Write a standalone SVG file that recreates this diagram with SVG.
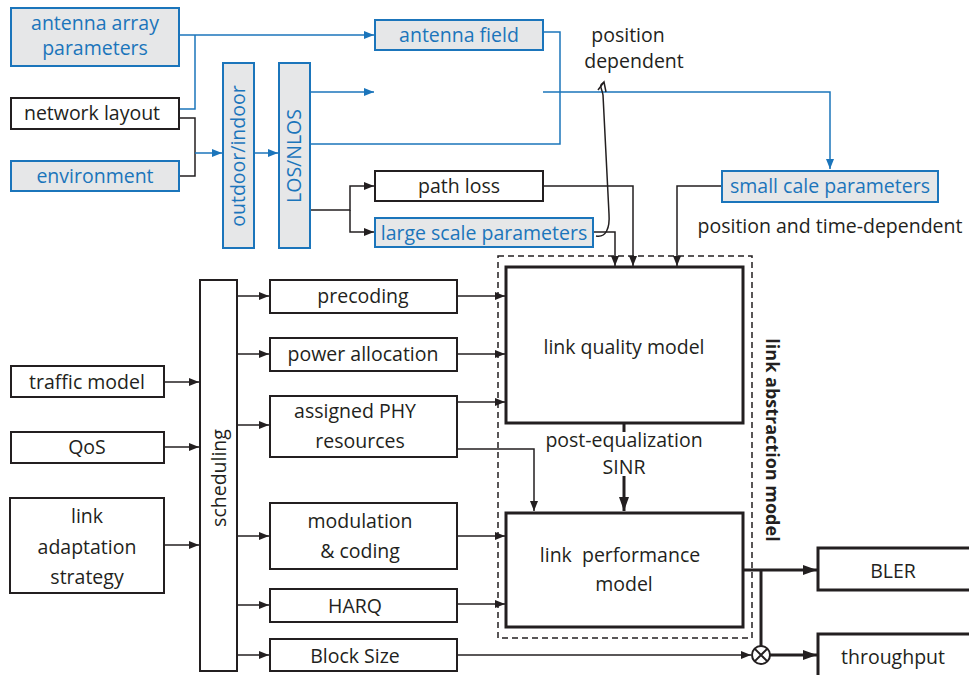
<svg xmlns="http://www.w3.org/2000/svg" width="969" height="675" viewBox="0 0 969 675">
<defs>
<marker id="ab" viewBox="0 0 10 8" refX="10" refY="4" markerWidth="10" markerHeight="8" markerUnits="userSpaceOnUse" orient="auto"><path d="M0 0L10 4L0 8z" fill="#231f20"/></marker>
<marker id="abl" viewBox="0 0 10 8" refX="10" refY="4" markerWidth="10" markerHeight="8" markerUnits="userSpaceOnUse" orient="auto"><path d="M0 0L10 4L0 8z" fill="#1b75bb"/></marker>
<marker id="abig" viewBox="0 0 14 10" refX="14" refY="5" markerWidth="14" markerHeight="10" markerUnits="userSpaceOnUse" orient="auto"><path d="M0 0L14 5L0 10z" fill="#231f20"/></marker>
</defs>
<style>
text{font-family:"Open Sans","Noto Sans","Liberation Sans",sans-serif;font-size:19.5px;fill:#231f20;text-anchor:middle}
.bt{fill:#1b75bb}
.bb{fill:#e6e7e8;stroke:#1b75bb;stroke-width:2}
.kb{fill:#fff;stroke:#231f20;stroke-width:2}
.tk{fill:#fff;stroke:#231f20;stroke-width:3}
.bl{fill:none;stroke:#1b75bb;stroke-width:1.5}
.kl{fill:none;stroke:#231f20;stroke-width:1.5}
.th{fill:none;stroke:#231f20;stroke-width:3}
</style>
<rect width="969" height="675" fill="#fff"/>

<g id="connectors">
<path class="bl" d="M179 35H374" marker-end="url(#abl)"/>
<path class="bl" d="M179 109H195V35"/>
<path class="kl" d="M179 118H195V176H179"/>
<path class="bl" d="M195 153H222" marker-end="url(#abl)"/>
<path class="bl" d="M254 153H278" marker-end="url(#abl)"/>
<path class="bl" d="M310 92H374" marker-end="url(#abl)"/>
<path class="bl" d="M543 92H830V169" marker-end="url(#abl)"/>
<path class="bl" d="M310 144H560V32H543"/>
<path class="kl" d="M310 210H350V186H374" marker-end="url(#ab)"/>
<path class="kl" d="M350 210V232H374" marker-end="url(#ab)"/>
<path class="kl" d="M543 186H633V266" marker-end="url(#ab)"/>
<path class="kl" d="M593 232H615V266" marker-end="url(#ab)"/>
<path class="kl" d="M722 186H677V266" marker-end="url(#ab)"/>
<path class="kl" d="M596 236C606 238 610 228 609 214L603 95C602 88 598 86 604 82"/>
<path class="kl" d="M598 90L604 82L606 92"/>
<path class="kl" d="M164 382H199" marker-end="url(#ab)"/>
<path class="kl" d="M164 447H199" marker-end="url(#ab)"/>
<path class="kl" d="M164 545H199" marker-end="url(#ab)"/>
<path class="kl" d="M237 296H269" marker-end="url(#ab)"/>
<path class="kl" d="M237 354H269" marker-end="url(#ab)"/>
<path class="kl" d="M237 425H269" marker-end="url(#ab)"/>
<path class="kl" d="M237 536H269" marker-end="url(#ab)"/>
<path class="kl" d="M237 605H269" marker-end="url(#ab)"/>
<path class="kl" d="M237 655H269" marker-end="url(#ab)"/>
<path class="kl" d="M457 296H505" marker-end="url(#ab)"/>
<path class="kl" d="M457 354H505" marker-end="url(#ab)"/>
<path class="kl" d="M457 402H505" marker-end="url(#ab)"/>
<path class="kl" d="M457 449H534V511" marker-end="url(#ab)"/>
<path class="kl" d="M457 536H505" marker-end="url(#ab)"/>
<path class="kl" d="M457 604H505" marker-end="url(#ab)"/>
<path class="kl" d="M457 655H751" marker-end="url(#ab)"/>
<path class="th" d="M624 423V432"/>
<path class="th" d="M624 476V511" marker-end="url(#abig)"/>
<path class="th" d="M743 570H817" marker-end="url(#abig)"/>
<path class="th" d="M761 570V646"/>
<path class="th" d="M770 655H817" marker-end="url(#abig)"/>
</g>

<g id="antenna-array"><rect class="bb" x="11" y="8" width="168" height="58"/><text class="bt" x="95" y="30">antenna array</text><text class="bt" x="95" y="55">parameters</text></g>
<g id="network-layout"><rect class="kb" x="11" y="98" width="168" height="31"/><text x="92" y="120">network layout</text></g>
<g id="environment"><rect class="bb" x="11" y="161" width="168" height="30"/><text class="bt" x="95" y="183">environment</text></g>
<g id="outdoor-indoor"><rect class="bb" x="223" y="63" width="31" height="185"/><text class="bt" transform="translate(245 156) rotate(-90)">outdoor/indoor</text></g>
<g id="los-nlos"><rect class="bb" x="279" y="63" width="31" height="185"/><text class="bt" transform="translate(301 156) rotate(-90)">LOS/NLOS</text></g>
<g id="antenna-field"><rect class="bb" x="375" y="20" width="168" height="30"/><text class="bt" x="459" y="42">antenna field</text></g>
<g id="path-loss"><rect class="kb" x="375" y="171" width="168" height="30"/><text x="459" y="193">path loss</text></g>
<g id="large-scale"><rect class="bb" x="375" y="218" width="218" height="29"/><text class="bt" x="484" y="240">large scale parameters</text></g>
<g id="small-scale"><rect class="bb" x="722" y="171" width="216" height="31"/><text class="bt" x="830" y="193">small cale parameters</text></g>
<g id="position-label"><text x="628" y="42">position</text><text x="634" y="68">dependent</text></g>
<g id="position-time-label"><text x="830" y="233">position and time-dependent</text></g>

<g id="scheduling"><rect class="kb" x="200" y="280" width="37" height="391"/><text transform="translate(226 478) rotate(-90)">scheduling</text></g>
<g id="traffic-model"><rect class="kb" x="11" y="366" width="153" height="31"/><text x="87" y="389">traffic model</text></g>
<g id="qos"><rect class="kb" x="11" y="432" width="153" height="31"/><text x="87" y="454">QoS</text></g>
<g id="link-adaptation"><rect class="kb" x="10" y="498" width="154" height="95"/><text x="87" y="523">link</text><text x="87" y="554">adaptation</text><text x="87" y="584">strategy</text></g>
<g id="precoding"><rect class="kb" x="270" y="280" width="187" height="33"/><text x="363" y="303">precoding</text></g>
<g id="power-allocation"><rect class="kb" x="270" y="338" width="187" height="33"/><text x="363" y="361">power allocation</text></g>
<g id="assigned-phy"><rect class="kb" x="270" y="396" width="187" height="61"/><text x="355" y="418">assigned PHY</text><text x="360" y="448">resources</text></g>
<g id="modulation"><rect class="kb" x="270" y="503" width="187" height="66"/><text x="360" y="528">modulation</text><text x="360" y="558">&amp; coding</text></g>
<g id="harq"><rect class="kb" x="270" y="589" width="187" height="33"/><text x="355" y="613">HARQ</text></g>
<g id="block-size"><rect class="kb" x="270" y="639" width="187" height="32"/><text x="355" y="663">Block Size</text></g>

<g id="link-abstraction"><rect x="498" y="256" width="254" height="382" fill="none" stroke="#231f20" stroke-width="1.5" stroke-dasharray="6 4"/><text transform="translate(766 440) rotate(90)" style="font-weight:bold;font-size:18px">link abstraction model</text></g>
<g id="link-quality"><rect class="tk" x="506" y="267" width="237" height="156"/><text x="624" y="354">link quality model</text></g>
<g id="sinr-label"><text x="624" y="447">post-equalization</text><text x="624" y="474">SINR</text></g>
<g id="link-performance"><rect class="tk" x="506" y="513" width="237" height="114"/><text x="620" y="562" style="white-space:pre">link  performance</text><text x="624" y="591">model</text></g>
<g id="multiplier"><circle cx="761" cy="655" r="9" fill="#fff" stroke="#231f20" stroke-width="2"/><path d="M754.6 648.6L767.4 661.4M767.4 648.6L754.6 661.4" stroke="#231f20" stroke-width="2"/></g>
<g id="bler"><rect class="tk" x="818" y="548" width="160" height="42"/><text x="893" y="578">BLER</text></g>
<g id="throughput"><rect class="tk" x="818" y="634" width="160" height="50"/><text x="893" y="664">throughput</text></g>
</svg>
